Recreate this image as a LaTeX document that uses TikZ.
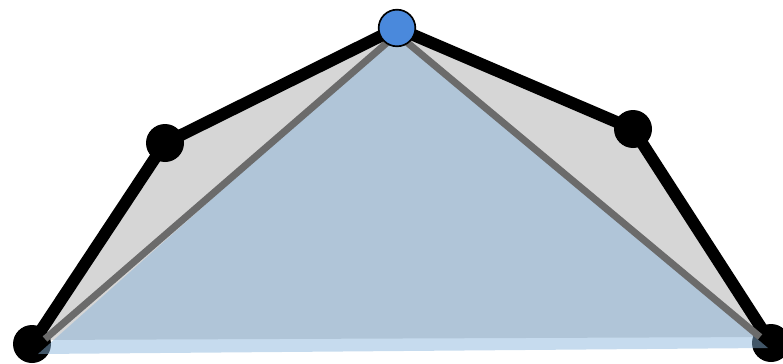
\documentclass[tikz,border=0pt]{standalone}
\usepackage{tikz}
\usetikzlibrary{calc}

\definecolor{hullgray}{HTML}{D6D6D6}
\definecolor{edgegray}{HTML}{6B6B6B}
\definecolor{earblue}{RGB}{136,180,219}
\definecolor{apexblue}{RGB}{74,137,220}

\begin{document}
\begin{tikzpicture}[x=0.3mm, y=-0.3mm,
  vertex/.style={circle, fill=black, inner sep=0pt, minimum size=11.4mm},
  apex/.style={circle, fill=apexblue, draw=black, line width=0.5mm, inner sep=0pt, minimum size=11mm}]
  \useasboundingbox (0,0) rectangle (783,363);
  % hull points
  \coordinate (bl) at (32,344);
  \coordinate (l) at (165,143);
  \coordinate (t) at (397,28);
  \coordinate (r) at (633,129);
  \coordinate (br) at (771,343);
  % points of the shaded triangle
  \coordinate (tl) at (38,354);
  \coordinate (tr) at (768,348);
  \coordinate (tt) at (397,34);
  \coordinate (gl) at (45,339);
  \coordinate (gr) at (760,337);
  \fill[hullgray] (32,340) -- (l) -- (t) -- (r) -- (771,337) -- cycle;
  \draw[line width=3.6mm, line join=round] (bl) -- (l) -- (t) -- (r) -- (br);
  \node[vertex] (vbl) at (bl) {};
  \node[vertex] (vl) at (l) {};
  \node[vertex] (vr) at (r) {};
  \node[vertex] (vbr) at (br) {};
  \fill[earblue, opacity=0.48] (tl) -- (tt) -- (tr) -- cycle;
  \draw[edgegray, line width=2.1mm] (gl) -- (tt) -- (gr);
  \node[apex] (vt) at (t) {};
\end{tikzpicture}
\end{document}
